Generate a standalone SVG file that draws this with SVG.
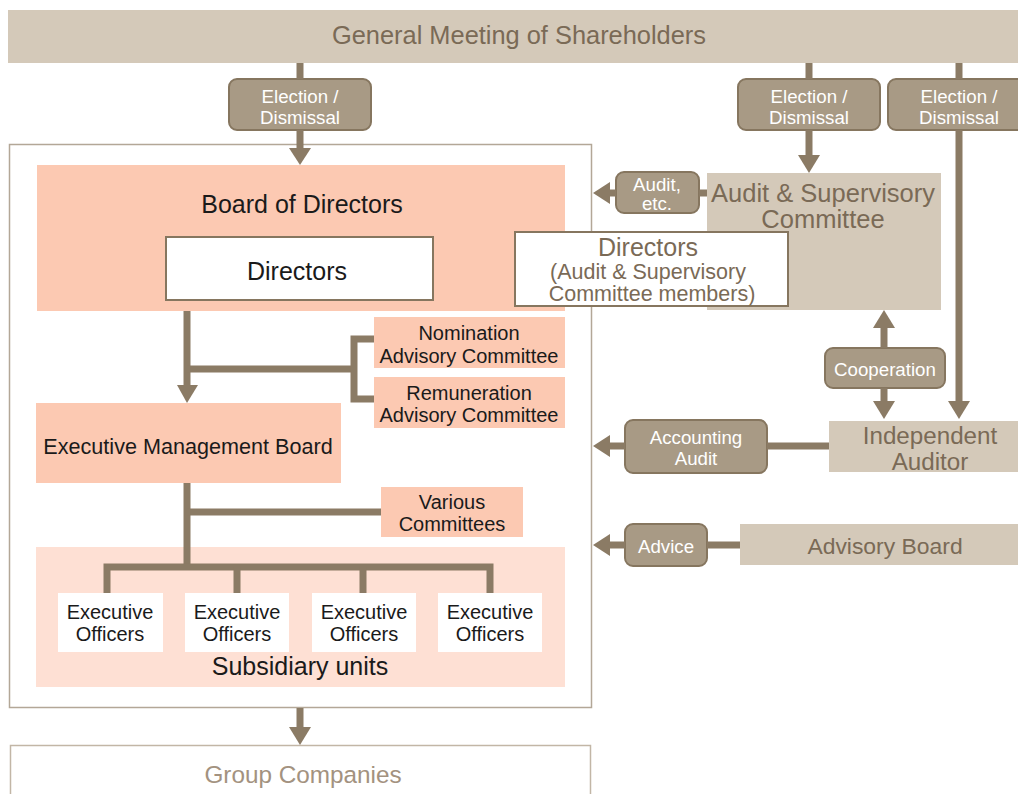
<svg xmlns="http://www.w3.org/2000/svg" width="1018" height="794" viewBox="0 0 1018 794">
<defs>
<style>
text{font-family:"Liberation Sans",Arial,sans-serif;text-anchor:middle;dominant-baseline:central}
.band{fill:#d4c9b9}
.lbl{fill:#a89a85;stroke:#86765f;stroke-width:2}
.lt{fill:#ffffff;font-size:18.7px}
.pk{fill:#fcc9b2}
.pkl{fill:#fee0d4}
.wb{fill:#ffffff;stroke:#86765f;stroke-width:2}
.dk{fill:#1a1a1a}
.br{fill:#7a6a56}
.ln{stroke:#8b7b65;stroke-width:7;fill:none}
.ah{fill:#8b7b65}
.sm{font-size:20px}
</style>
</defs>
<rect x="0" y="0" width="1018" height="794" fill="#ffffff"/>

<g id="general-meeting">
<rect class="band" x="8" y="10" width="1010" height="53"/>
<text class="br" x="519" y="35" font-size="25.4">General Meeting of Shareholders</text>
</g>

<g id="label-election-1">
<rect class="lbl" x="229" y="79" width="142" height="51" rx="8"/>
<text class="lt" x="300" y="96">Election /</text>
<text class="lt" x="300" y="117">Dismissal</text>
</g>
<g id="label-election-2">
<rect class="lbl" x="738" y="79" width="142" height="51" rx="8"/>
<text class="lt" x="809" y="96">Election /</text>
<text class="lt" x="809" y="117">Dismissal</text>
</g>
<g id="label-election-3">
<rect class="lbl" x="888" y="79" width="142" height="51" rx="8"/>
<text class="lt" x="959" y="96">Election /</text>
<text class="lt" x="959" y="117">Dismissal</text>
</g>

<g id="company-frame">
<rect x="9.5" y="144.5" width="582" height="563" fill="none" stroke="#b3a797" stroke-width="1.5"/>
</g>

<g id="board-of-directors">
<rect class="pk" x="37" y="165" width="528" height="146"/>
<text class="dk" x="302" y="204" font-size="25">Board of Directors</text>
</g>
<g id="directors">
<rect class="wb" x="166" y="237" width="267" height="63"/>
<text class="dk" x="297" y="271" font-size="25">Directors</text>
</g>

<g id="audit-committee">
<rect class="band" x="707" y="173" width="234" height="137"/>
<text class="br" x="823" y="193" font-size="25.5">Audit &amp; Supervisory</text>
<text class="br" x="823" y="219" font-size="25.5">Committee</text>
</g>
<g id="audit-directors">
<rect class="wb" x="515" y="232" width="273" height="74"/>
<text class="br" x="648" y="247" font-size="25">Directors</text>
<text class="br" x="648" y="272" font-size="21.5">(Audit &amp; Supervisory</text>
<text class="br" x="652" y="294" font-size="21.5">Committee members)</text>
</g>
<g id="label-audit">
<rect class="lbl" x="616" y="172" width="83" height="41" rx="8"/>
<text class="lt" x="657" y="184" font-size="19">Audit,</text>
<text class="lt" x="657" y="203" font-size="19">etc.</text>
</g>

<g id="nomination">
<rect class="pk" x="374" y="317" width="191" height="51"/>
<text class="dk sm" x="469" y="333">Nomination</text>
<text class="dk sm" x="469" y="356">Advisory Committee</text>
</g>
<g id="remuneration">
<rect class="pk" x="374" y="377" width="191" height="51"/>
<text class="dk sm" x="469" y="393">Remuneration</text>
<text class="dk sm" x="469" y="415">Advisory Committee</text>
</g>

<g id="executive-management-board">
<rect class="pk" x="36" y="403" width="305" height="80"/>
<text class="dk" x="188" y="446" font-size="21.6">Executive Management Board</text>
</g>
<g id="various-committees">
<rect class="pk" x="381" y="487" width="142" height="50"/>
<text class="dk sm" x="452" y="502">Various</text>
<text class="dk sm" x="452" y="524">Committees</text>
</g>

<g id="subsidiary-units">
<rect class="pkl" x="36" y="547" width="529" height="140"/>
<text class="dk" x="300" y="666" font-size="25">Subsidiary units</text>
</g>
<g id="exec-1">
<rect x="58" y="593" width="105" height="59" fill="#ffffff"/>
<text class="dk sm" x="110" y="612">Executive</text>
<text class="dk sm" x="110" y="634">Officers</text>
</g>
<g id="exec-2">
<rect x="185" y="593" width="104" height="59" fill="#ffffff"/>
<text class="dk sm" x="237" y="612">Executive</text>
<text class="dk sm" x="237" y="634">Officers</text>
</g>
<g id="exec-3">
<rect x="312" y="593" width="104" height="59" fill="#ffffff"/>
<text class="dk sm" x="364" y="612">Executive</text>
<text class="dk sm" x="364" y="634">Officers</text>
</g>
<g id="exec-4">
<rect x="438" y="593" width="104" height="59" fill="#ffffff"/>
<text class="dk sm" x="490" y="612">Executive</text>
<text class="dk sm" x="490" y="634">Officers</text>
</g>

<g id="label-cooperation">
<rect class="lbl" x="825" y="348" width="120" height="40" rx="8"/>
<text class="lt" x="885" y="369">Cooperation</text>
</g>
<g id="independent-auditor">
<rect class="band" x="829" y="421" width="189" height="51"/>
<text class="br" x="930" y="435" font-size="24.2">Independent</text>
<text class="br" x="930" y="461" font-size="24.2">Auditor</text>
</g>
<g id="label-accounting">
<rect class="lbl" x="625" y="420" width="142" height="53" rx="8"/>
<text class="lt" x="696" y="437">Accounting</text>
<text class="lt" x="696" y="458">Audit</text>
</g>
<g id="label-advice">
<rect class="lbl" x="625" y="524" width="82" height="42" rx="8"/>
<text class="lt" x="666" y="546">Advice</text>
</g>
<g id="advisory-board">
<rect class="band" x="740" y="524" width="278" height="41"/>
<text class="br" x="885" y="546" font-size="22.9">Advisory Board</text>
</g>

<g id="group-companies">
<rect x="10.5" y="745.5" width="580" height="60" fill="#ffffff" stroke="#c2b6a6" stroke-width="1.5"/>
<text x="303" y="774" font-size="24.3" fill="#a39280">Group Companies</text>
</g>

<g id="connectors">
<!-- GM to Board -->
<line class="ln" x1="300" y1="63" x2="300" y2="79"/>
<line class="ln" x1="300" y1="130" x2="300" y2="150"/>
<polygon class="ah" points="289,148 311,148 300,165"/>
<!-- GM to Audit committee -->
<line class="ln" x1="809" y1="63" x2="809" y2="79"/>
<line class="ln" x1="809" y1="130" x2="809" y2="157"/>
<polygon class="ah" points="798,155 820,155 809,173"/>
<!-- GM to Independent Auditor -->
<line class="ln" x1="959" y1="63" x2="959" y2="79"/>
<line class="ln" x1="959" y1="130" x2="959" y2="403"/>
<polygon class="ah" points="948,401 970,401 959,419"/>
<!-- Audit etc -->
<line class="ln" x1="707" y1="193" x2="699" y2="193"/>
<line class="ln" x1="616" y1="193" x2="606" y2="193"/>
<polygon class="ah" points="610,182 610,204 593,193"/>
<!-- Cooperation -->
<line class="ln" x1="884" y1="326" x2="884" y2="348"/>
<line class="ln" x1="884" y1="388" x2="884" y2="403"/>
<polygon class="ah" points="873,328 895,328 884,310"/>
<polygon class="ah" points="873,401 895,401 884,419"/>
<!-- Accounting audit -->
<line class="ln" x1="829" y1="446" x2="767" y2="446"/>
<line class="ln" x1="625" y1="446" x2="606" y2="446"/>
<polygon class="ah" points="610,435 610,457 593,446"/>
<!-- Advice -->
<line class="ln" x1="740" y1="545" x2="707" y2="545"/>
<line class="ln" x1="625" y1="545" x2="606" y2="545"/>
<polygon class="ah" points="610,534 610,556 593,545"/>
<!-- Board to EMB -->
<line class="ln" x1="187" y1="311" x2="187" y2="387"/>
<polygon class="ah" points="177,385 198,385 187,403"/>
<polyline class="ln" points="187,369 354,369"/>
<polyline class="ln" points="374,339 354,339 354,399 374,399"/>
<!-- EMB to Subsidiary -->
<line class="ln" x1="187" y1="483" x2="187" y2="567"/>
<line class="ln" x1="187" y1="512" x2="381" y2="512"/>
<polyline class="ln" points="107,593 107,567 490,567 490,593"/>
<line class="ln" x1="237" y1="567" x2="237" y2="593"/>
<line class="ln" x1="363" y1="567" x2="363" y2="593"/>
<!-- to Group Companies -->
<line class="ln" x1="300" y1="708" x2="300" y2="729"/>
<polygon class="ah" points="289,727 311,727 300,745"/>
</g>
</svg>
